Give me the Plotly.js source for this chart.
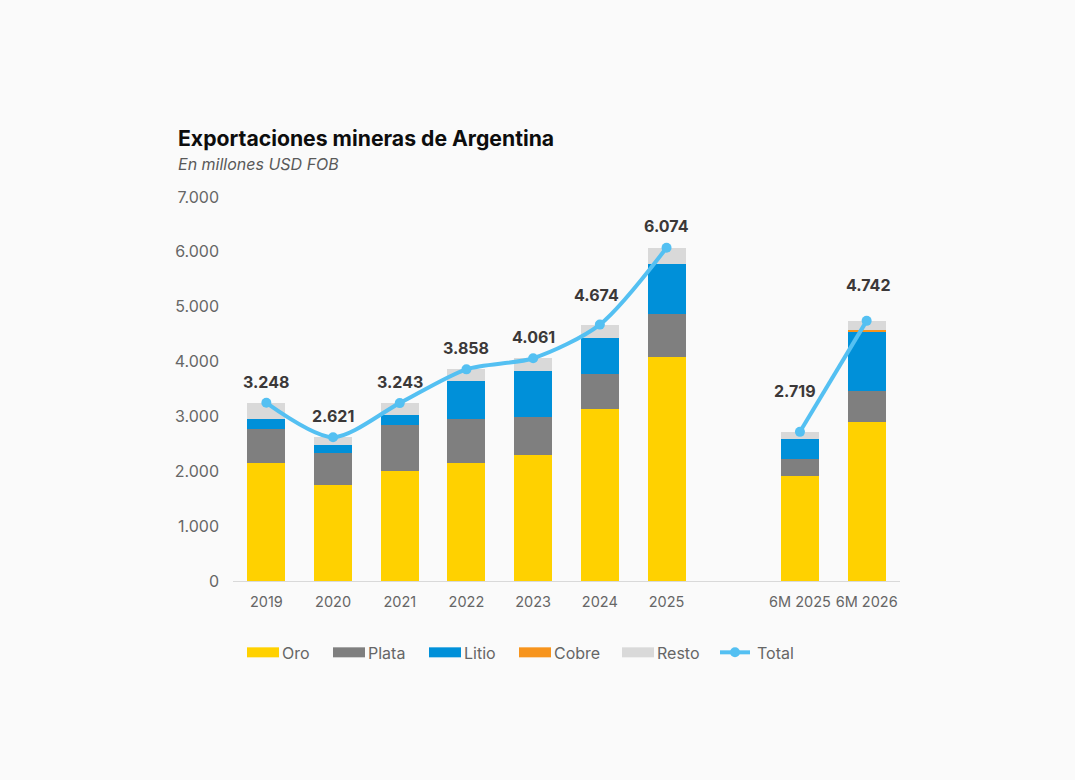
<!DOCTYPE html>
<html><head><meta charset="utf-8">
<script src="https://cdn.plot.ly/plotly-3.0.1.min.js"></script>
<style>html,body{margin:0;padding:0;background:#fafafa}</style>
</head><body><div id="chart" style="width:1075px;height:780px"></div>
<script>
const categories = ["2019","2020","2021","2022","2023","2024","2025"," ","6M 2025","6M 2026"];
const oro   = [2155,1755,2000,2155,2290,3136,4090,null,1918,2900];
const plata = [615,581,836,800,692,646,783,null,300,564];
const litio = [185,137,191,690,845,645,909,null,373,1091];
const cobre = [0,0,0,0,0,0,0,null,0,15];
const resto = [293,148,216,213,234,247,292,null,128,172];
const total = [3248,2621,3243,3858,4061,4674,6074,null,2719,4742];
const labelDx = [0,0,0,0,0,-3,0,0,-5,2];
const labelDy = [9,9,9,9,9,18,10,0,29,24];
const legendPitch = [0,86,182,272,375,472];
const fontFam = 'Inter, "Open Sans", sans-serif';
const bar = (name, y, color) => ({type:'bar', name, x:categories, y, marker:{color, line:{width:0}}, hoverinfo:'y+name'});
const traces = [
  bar('Oro', oro, '#ffd100'),
  bar('Plata', plata, '#7f7f7f'),
  bar('Litio', litio, '#0090d9'),
  bar('Cobre', cobre, '#f7941d'),
  bar('Resto', resto, '#d9d9d9'),
  {type:'scatter', mode:'lines+markers', name:'Total', x:categories, y:total, connectgaps:false,
   line:{color:'#54c0f2', width:4, shape:'spline', smoothing:0.8},
   marker:{color:'#54c0f2', size:10}}
];
const fmt = v => String(v).replace(/\B(?=(\d{3})+$)/g,'.');
const annotations = [];
categories.forEach((c,i)=>{ if(total[i]!=null) annotations.push({
  x:i, y:total[i], xref:'x', yref:'y', text:'<b>'+fmt(total[i])+'</b>', showarrow:false,
  yanchor:'bottom', xshift:labelDx[i], yshift:labelDy[i],
  font:{family:fontFam, size:16, color:'#3b3838'}
});});
annotations.push(
  {xref:'paper', yref:'paper', x:(178-233)/667, xanchor:'left', xshift:-2, y:1, yanchor:'bottom', yshift:21, text:'<i>En millones USD FOB</i>', showarrow:false, font:{family:fontFam, size:16, color:'#595959'}}
);
const layout = {
  width:1075, height:780,
  paper_bgcolor:'#fafafa', plot_bgcolor:'#fafafa',
  separators:',.',
  barmode:'stack', bargap:0.43,
  showlegend:true,
  title:{text:'<b>Exportaciones mineras de Argentina</b>', x:178/1075, xanchor:'left', y:1-139/780, yanchor:'middle', font:{family:fontFam, size:21.2, color:'#0d0d0d'}},
  margin:{l:233, r:175, t:196.5, b:198.5},
  xaxis:{type:'category', categoryorder:'array', categoryarray:categories, range:[-0.5,9.5], autorange:false, tickangle:0, showgrid:false, showline:true, linecolor:'#d9d9d9', linewidth:1, ticks:'', ticklabelstandoff:8, tickfont:{family:fontFam, size:14.5, color:'#666666'}, automargin:false},
  yaxis:{range:[0,7000], dtick:1000, tickformat:',d', showgrid:false, zeroline:false, showline:false, ticks:'', ticklabelstandoff:13, tickfont:{family:fontFam, size:16, color:'#666666'}, automargin:false},
  legend:{orientation:'h', x:(243-233)/667, xanchor:'left', y:-0.186, yanchor:'middle', traceorder:'normal', font:{family:fontFam, size:16, color:'#666666'}, bgcolor:'rgba(0,0,0,0)', itemwidth:30, tracegroupgap:0},
  annotations
};
Plotly.newPlot('chart', traces, layout, {displayModeBar:false, responsive:false}).then(gd=>{
  const sb = gd.querySelector('.legend .scrollbox');
  if(sb) sb.removeAttribute('clip-path');
  const leg = gd.querySelector('.legend');
  if(leg) leg.removeAttribute('clip-path');
  gd.querySelectorAll('.legend .traces').forEach((g,i)=>{
    const m = /translate\(([-\d.]+),\s*([-\d.]+)\)/.exec(g.getAttribute('transform')||'');
    const y = m ? m[2] : 0;
    g.setAttribute('transform','translate('+legendPitch[i]+','+y+')');
    const t = g.querySelector('text');
    if(i<5){
      const p = g.querySelector('.legendpoints path');
      if(p) p.setAttribute('d','M16,5H-16V-5H16Z');
    }
    if(t) t.setAttribute('x', i<5 ? 39 : 42);
  });
});
</script></body></html>
